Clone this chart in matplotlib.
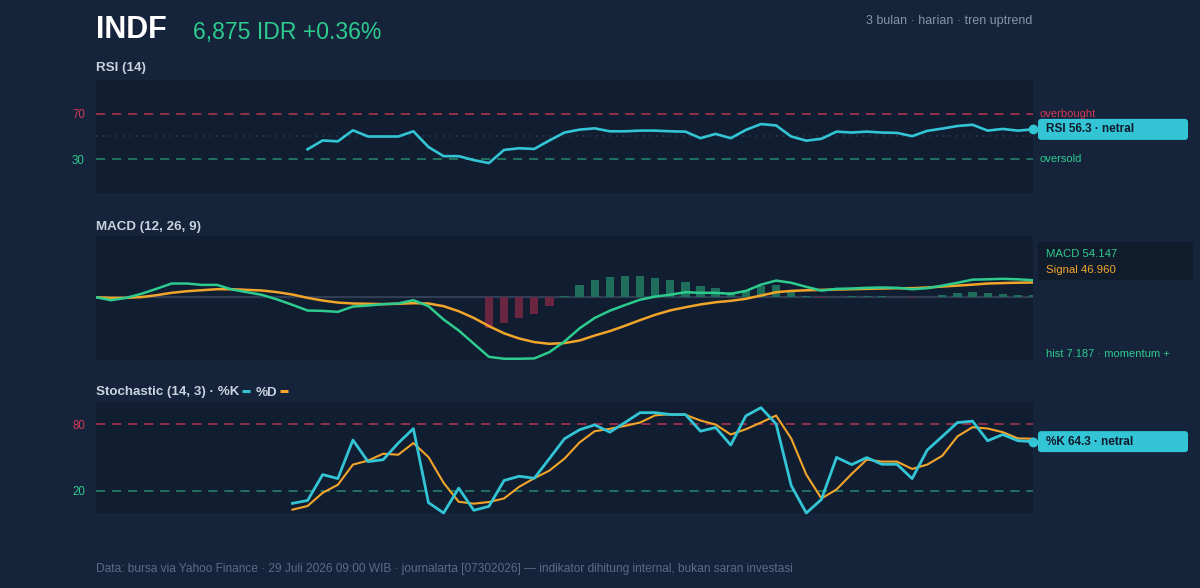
import numpy as np
import matplotlib.pyplot as plt
from matplotlib.patches import FancyBboxPatch

plt.rcParams['font.family'] = ['Liberation Sans', 'DejaVu Sans']

# data, 63 daily sessions (index 0..62)
n_days = 63
days = np.arange(n_days)

rsi_start = 14
rsi = [38.7, 46.5, 45.7, 55.5, 50, 50, 50, 54.6, 40.7, 32.6, 32.6, 29.1, 26.5,
       38.1, 39.6, 39, 46.5, 53.5, 56.1, 57.2, 54.6, 54.6, 55.2, 55.2, 54.6,
       54.3, 48.5, 52.3, 48.5, 55.8, 61, 59.8, 50, 46.3, 48, 54.3, 53.5, 54.3,
       53.5, 53.2, 50.3, 55, 57, 59.3, 60.4, 55.2, 56.7, 55.2, 56.3]

macd = [0, -9.5, -2, 10.8, 26.7, 43.6, 43.6, 39.3, 39.3, 24.5, 16, 7.4, -7.4,
        -24.4, -42.4, -43.5, -46.7, -29.7, -26.5, -22.2, -20, -9.5, -28.6, -71,
        -106, -148, -190, -196, -196, -195, -175, -141, -99, -66, -43, -25, -8,
        2, 8, 16, 14, 14, 10.8, 20, 40, 53, 46, 33, 21, 26.7, 27.7, 30, 31, 30,
        25.5, 28.7, 37, 46, 56, 57, 58.6, 57, 54.147]
signal = [0, -2, -2, 0.5, 6.4, 14, 19, 22.3, 25.5, 25.5, 23.4, 21.3, 16, 8.5,
          -2, -10.6, -17, -20, -21, -22, -21, -19, -20, -28.6, -44.6, -66, -92,
          -115, -131.5, -143, -148.5, -146, -138, -122, -108, -91, -73, -56,
          -42, -32, -23, -16, -11.6, -5, 5.3, 16, 20, 22, 23.4, 24.5, 25.5,
          26.7, 27.7, 28.7, 28.7, 31, 34, 37, 40, 43.6, 45, 46.2, 46.96]
hist_start = 26
hist = [-98, -81, -65, -52, -26.5, 5, 39, 56, 63.7, 66, 66, 62.6, 56, 50, 35,
        28.7, 18, 23, 35, 39, 18, 5.3, -1.5, 2, 3, 5, 5, 2, -1, 2, 7.4, 13.8,
        18, 13.8, 11.7, 7.4, 7.187]

stoch_start = 13
stoch_k = [8.7, 11.3, 34.6, 31, 65.7, 46.3, 48, 63, 76, 9.3, 0, 22.4, 2.4, 6,
           29.3, 33.1, 31.3, 49, 66.9, 75, 79.4, 72.8, 81.5, 90.4, 90.4, 88.7,
           88.7, 73.7, 77, 61.2, 87.5, 94.9, 80.3, 24.8, 0, 12.2, 50.1, 43.6,
           49.9, 43.9, 43.9, 31, 56.7, 69, 81.5, 82.7, 65.1, 70.7, 65.1, 64.3]
stoch_d = [3, 6.3, 18.2, 25.4, 43.6, 47.2, 53.4, 52.5, 63, 50.4, 27.2, 10.1,
           8.4, 9.9, 13.1, 23.6, 31.3, 38.2, 49, 63.6, 73.7, 75.8, 78.5, 81.5,
           88, 89, 88.4, 83.3, 79.7, 70.7, 75.5, 81.5, 87.8, 67.2, 34.6, 13.1,
           21.2, 35.2, 48.1, 46.3, 46.3, 39.7, 43.6, 51.6, 69, 77.3, 76.1, 72.8,
           67.2, 66.9]

# colours
BG = '#15233b'
PANEL = '#111e31'
CYAN = '#33c5d5'
GREEN = '#2ecb8e'
ORANGE = '#f2a52a'
RED = '#d23a55'
GREEN_DASH = '#2a9b78'
TITLE_C = '#c9d3e0'
MUTED = '#8795aa'
FOOT = '#5d6c84'

W, H = 1200, 588
fig = plt.figure(figsize=(W / 100, H / 100), dpi=100, facecolor=BG)


def panel(top, bottom):
    ax = fig.add_axes([96 / W, 1 - bottom / H, 937 / W, (bottom - top) / H])
    ax.set_facecolor(PANEL)
    for s in ax.spines.values():
        s.set_visible(False)
    ax.set_xlim(0, n_days - 1)
    ax.set_xticks([])
    ax.tick_params(axis='y', length=0, pad=8, labelsize=8.3)
    return ax


# RSI
ax1 = panel(80, 193)
ax1.set_ylim(0, 100)
x_rsi = days[rsi_start:]
ax1.axhline(70, color=RED, lw=1.1, ls=(0, (6, 4.5)), alpha=0.85)
ax1.axhline(30, color=GREEN_DASH, lw=1.1, ls=(0, (6, 4.5)), alpha=0.85)
ax1.axhline(50, color='#2b3a50', lw=1.2, ls=(0, (1, 3)))
ax1.plot(x_rsi, rsi, color=CYAN, lw=1.9)
ax1.plot(x_rsi[-1], rsi[-1], 'o', color=CYAN, ms=6, clip_on=False, zorder=5)
ax1.set_yticks([30, 70])
ax1.set_yticklabels(['30', '70'])
ax1.get_yticklabels()[0].set_color(GREEN)
ax1.get_yticklabels()[1].set_color(RED)

# MACD
ax2 = panel(236, 360)
ax2.set_ylim(-200, 195)
ax2.set_yticks([])
x_hist = days[hist_start:]
hcol = ['#1f6d5b' if v >= 0 else '#6a2641' for v in hist]
ax2.bar(x_hist, hist, width=0.55, color=hcol, zorder=2)
ax2.axhline(0, color='#2f3d55', lw=1.6, zorder=1)
ax2.plot(days, signal, color=ORANGE, lw=1.8, zorder=3)
ax2.plot(days, macd, color=GREEN, lw=1.8, zorder=4)

# Stochastic
ax3 = panel(402, 513)
ax3.set_ylim(0, 100)
x_st = days[stoch_start:]
ax3.axhline(80, color=RED, lw=1.1, ls=(0, (6, 4.5)), alpha=0.85)
ax3.axhline(20, color=GREEN_DASH, lw=1.1, ls=(0, (6, 4.5)), alpha=0.85)
ax3.plot(x_st, stoch_d, color=ORANGE, lw=1.5, clip_on=False)
ax3.plot(x_st, stoch_k, color=CYAN, lw=2.0, clip_on=False)
ax3.plot(x_st[-1], stoch_k[-1], 'o', color=CYAN, ms=6, clip_on=False,
         zorder=5)
ax3.set_yticks([20, 80])
ax3.set_yticklabels(['20', '80'])
ax3.get_yticklabels()[0].set_color(GREEN)
ax3.get_yticklabels()[1].set_color(RED)

# overlay in pixel units for header, badges and side notes
ov = fig.add_axes([0, 0, 1, 1], zorder=10)
ov.set_xlim(0, W)
ov.set_ylim(0, H)
ov.axis('off')


def txt(x, ytop, s, **kw):
    kw.setdefault('va', 'center')
    return ov.text(x, H - ytop, s, **kw)


def ypix(ax, x, y):
    return ax.transData.transform((x, y))[1]


txt(96, 29.5, 'INDF', color='white', fontsize=22, fontweight='bold')
txt(193, 32, '6,875 IDR +0.36%', color=GREEN, fontsize=16.6)
txt(1032, 21, '3 bulan · harian · tren uptrend', color=MUTED, fontsize=9,
    ha='right')

txt(96, 68, 'RSI (14)', color=TITLE_C, fontsize=9.6, fontweight='bold')
txt(96, 227, 'MACD (12, 26, 9)', color=TITLE_C, fontsize=9.6,
    fontweight='bold')

# stochastic title with short coloured legend bars
fig.canvas.draw()
rend = fig.canvas.get_renderer()
xcur = 96
for piece, col in [('Stochastic (14, 3) · %K', CYAN), ('%D', ORANGE)]:
    t = txt(xcur, 395.5, piece, color=TITLE_C, fontsize=9.6,
            fontweight='bold', va='baseline')
    x1 = t.get_window_extent(rend).x1
    ov.plot([x1 + 3, x1 + 11], [H - 391, H - 391], color=col, lw=2.2,
            solid_capstyle='butt')
    xcur = x1 + 16

# RSI side labels
ov.text(1040, ypix(ax1, 0, 70), 'overbought', color=RED, fontsize=8,
        va='center')
ov.text(1040, ypix(ax1, 0, 30), 'oversold', color=GREEN, fontsize=8,
        va='center')


def badge(yc, label):
    ov.add_patch(FancyBboxPatch((1038, yc - 10.5), 150, 21,
                                boxstyle='round,pad=0,rounding_size=3',
                                fc=CYAN, ec='none'))
    ov.text(1046, yc, label, color='#0f1a2b', fontsize=8.5,
            fontweight='bold', va='center')


badge(ypix(ax1, x_rsi[-1], rsi[-1]), f'RSI {rsi[-1]:.1f} · netral')
badge(ypix(ax3, x_st[-1], stoch_k[-1]), f'%K {stoch_k[-1]:.1f} · netral')

# MACD legend box
ov.add_patch(FancyBboxPatch((1038, H - 280), 155, 38,
                            boxstyle='round,pad=0,rounding_size=3',
                            fc='#101b2c', ec='none'))
txt(1046, 254, f'MACD {macd[-1]:.3f}', color=GREEN, fontsize=8.2)
txt(1046, 270, f'Signal {signal[-1]:.3f}', color=ORANGE, fontsize=8.2)
txt(1046, 354, f'hist {hist[-1]:.3f} · momentum +', color=GREEN, fontsize=8)

txt(96, 569, 'Data: bursa via Yahoo Finance · 29 Juli 2026 09:00 WIB · '
    'journalarta [07302026] — indikator dihitung internal, bukan saran investasi',
    color=FOOT, fontsize=8.55)

fig.savefig('out.png', dpi=100, facecolor=BG)
